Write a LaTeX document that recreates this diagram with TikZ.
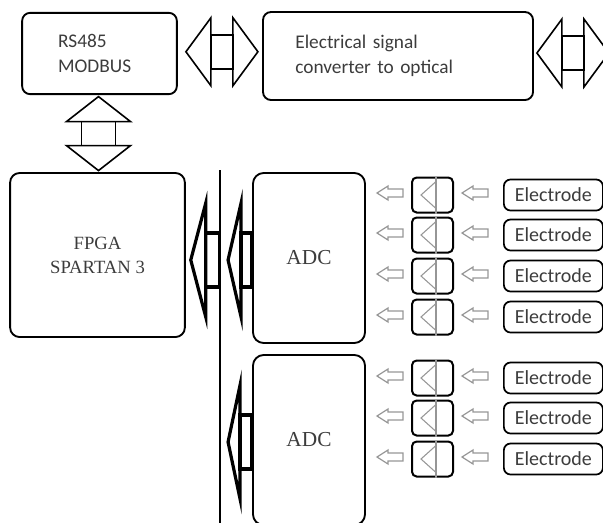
\documentclass[tikz,border=0pt]{standalone}
\usepackage{fontspec}
\setmainfont{Liberation Serif}
\newfontfamily\calibfont{Carlito}
\usetikzlibrary{positioning,calc}
\definecolor{txtgray}{RGB}{60,60,60}
\definecolor{arrgray}{RGB}{150,150,150}

\begin{document}
\begin{tikzpicture}[x=0.75pt, y=-0.75pt,
  box/.style={draw, line width=1.4pt, rounded corners=6pt, text=txtgray},
  sanstext/.style={font=\calibfont\fontsize{14.5}{18.75}\selectfont},
  ampbox/.style={draw, line width=1.5pt, rounded corners=3.5pt, minimum width=30.75pt, minimum height=26.25pt, inner sep=0pt},
  elbox/.style={draw, line width=1.3pt, rounded corners=5pt, minimum width=74.25pt, minimum height=23.25pt, inner sep=0pt, text=txtgray, font=\calibfont\fontsize{15}{18}\selectfont},
  garrow/.style={draw=arrgray, line width=0.9pt, line join=miter},
  dblarrow/.style={line width=1.2pt, line join=miter},
  blkarrow/.style={line width=2.4pt, line join=miter},
  bus/.style={line width=2.2pt}]
\useasboundingbox (0,0) rectangle (603,522);
% Top row
\node[box, sanstext, minimum width=116pt, minimum height=61pt, text width=62pt, align=left] (rs) at (99.5,53.5) {RS485\\MODBUS};
\node[box, sanstext, minimum width=202.5pt, minimum height=66pt, text width=154pt, align=left] (conv) at (398,56) {Electrical signal\\converter to optical};
% FPGA and ADCs
\node[box, rounded corners=7pt, minimum width=131pt, minimum height=123pt, align=center, font=\fontsize{14}{18}\selectfont] (fpga) at (97.5,255) {FPGA\\SPARTAN 3};
\node[box, rounded corners=8pt, minimum width=84pt, minimum height=127.5pt, font=\fontsize{16}{19}\selectfont] (adc1) at (309,258) {ADC};
\node[box, rounded corners=8pt, minimum width=84pt, minimum height=127.5pt, font=\fontsize{16}{19}\selectfont] (adc2) at (309,440) {ADC};
% Bus
\draw[bus] (220,170) -- (220,525);
% Double arrows
\coordinate (h1) at ($(rs.east)!0.5!(conv.west)+(2,-3)$);
\coordinate (h2) at ($(conv.east)+(39,-3)$);
\foreach \c in {h1,h2}{
  \draw[dblarrow] ($(\c)+(-36,0)$) -- ++(25,-34) -- ++(0,68) -- cycle;
  \draw[dblarrow] ($(\c)+(36,0)$) -- ++(-25,-34) -- ++(0,68) -- cycle;
  \draw[dblarrow] ($(\c)+(-11,-17)$) rectangle ($(\c)+(11,17)$);
}
\coordinate (v1) at ($(rs.south)!0.5!(fpga.north)$);
\draw[dblarrow] ($(v1)+(0,-37)$) -- ++(-32,25) -- ++(64,0) -- cycle;
\draw[dblarrow] ($(v1)+(0,37)$) -- ++(-32,-25) -- ++(64,0) -- cycle;
\draw[dblarrow] ($(v1)+(-17,-12)$) rectangle ($(v1)+(17,12)$);
% Arrows to the bus
\coordinate (b0) at (fpga.east |- adc1.west);
\foreach \b/\dx/\hl/\sl in {b0/5/15/14, adc1.west/-24/13/11, adc2.west/-24/12/12}{
  \draw[blkarrow] ($(\b)+(\dx,2)$) -- ++(\hl,-57) -- ++(0,114) -- cycle;
  \draw[blkarrow] ($(\b)+(\dx+\hl,-25)$) rectangle ++(\sl,54);
}
% Electrode channels
\foreach \y [count=\i] in {195,235,276,317,378,418,459}{
  \node[ampbox] (amp\i) at (432.5,\y) {};
  \draw[arrgray, line width=0.8pt] ($(amp\i.north west)+(25,0)$) -- ($(amp\i.south west)+(25,0)$);
  \draw[arrgray, line width=0.8pt] ($(amp\i.north west)+(25,5)$) -- ($(amp\i.west)+(10,0)$) -- ($(amp\i.south west)+(25,-5)$);
  \node[elbox, right=36.75pt of amp\i] (el\i) {Electrode};
  \coordinate (ga\i) at ($(amp\i.west)+(-34,-2)$);
  \coordinate (gb\i) at ($(amp\i.east)+(8,-2)$);
  \foreach \g in {ga\i,gb\i}
    \draw[garrow] (\g) -- ++(11,-7) -- ++(0,3) -- ++(15,0) -- ++(0,8) -- ++(-15,0) -- ++(0,3) -- cycle;
}
\end{tikzpicture}
\end{document}
